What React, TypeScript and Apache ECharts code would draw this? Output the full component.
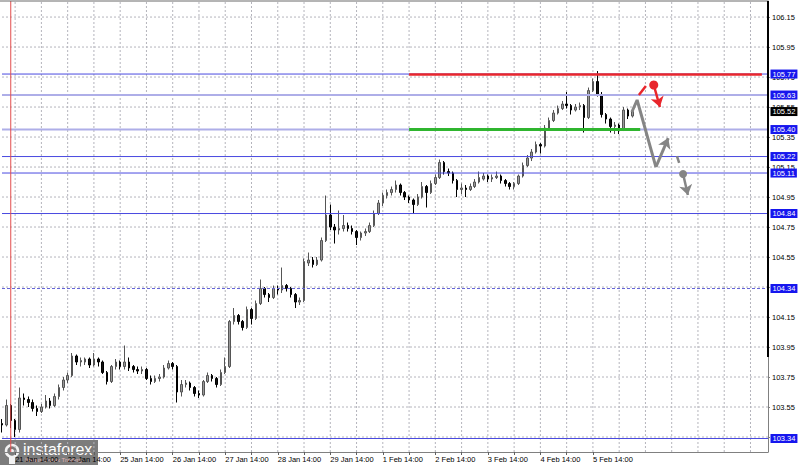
import React, { useEffect, useRef } from "react";
import * as echarts from "echarts";

// ---- time axis: 2-hour slots starting 21 Jan 08:00 (weekends skipped)
const DAYS = ["21 Jan", "22 Jan", "25 Jan", "26 Jan", "27 Jan", "28 Jan", "29 Jan", "1 Feb", "2 Feb", "3 Feb", "4 Feb", "5 Feb", "8 Feb", "9 Feb", "10 Feb"];
const categories: string[] = [];
DAYS.forEach((d, i) => {
  for (let h = 0; h < 24; h += 2) {
    if (i === 0 && h < 8) continue;
    categories.push(`${d} ${String(h).padStart(2, "0")}:00`);
  }
});
const LAST_LABELLED_SLOT = 139; // 5 Feb 22:00, no labels in the future area
const X_LABEL_SLOTS = [3, 15, 27, 39, 51, 63, 75, 87, 99, 111, 123, 135]; // the "14:00" bars
const X_TICK_SLOTS: number[] = [];
for (let i = 3; i <= LAST_LABELLED_SLOT; i += 6) X_TICK_SLOTS.push(i);

// ---- price ticks on the right scale
const Y_TICKS = [103.35, 103.55, 103.75, 103.95, 104.15, 104.35, 104.55, 104.75, 104.95, 105.15, 105.35, 105.55, 105.75, 105.95, 106.15];

// ---- horizontal levels (blue boxes)
const LEVELS = [105.77, 105.63, 105.4, 105.22, 105.11, 104.84, 104.34, 103.34];
const SOFT_LEVELS = [105.63, 105.4];
const DOTTED_LEVELS = [104.34];
const CURRENT_PRICE = 105.52;
const RESISTANCE = 105.77; // red
const SUPPORT = 105.4; // green

// ---- candles: [open, close, low, high]
const OHLC: number[][] = [
  [103.44, 103.43, 103.38, 103.47],
  [103.43, 103.56, 103.42, 103.6],
  [103.56, 103.46, 103.41, 103.57],
  [103.46, 103.4, 103.35, 103.47],
  [103.4, 103.61, 103.38, 103.68],
  [103.61, 103.6, 103.56, 103.64],
  [103.6, 103.58, 103.55, 103.62],
  [103.58, 103.54, 103.52, 103.6],
  [103.54, 103.52, 103.49, 103.56],
  [103.52, 103.55, 103.51, 103.57],
  [103.55, 103.59, 103.54, 103.63],
  [103.59, 103.56, 103.54, 103.61],
  [103.56, 103.62, 103.55, 103.64],
  [103.62, 103.68, 103.6, 103.7],
  [103.68, 103.73, 103.66, 103.75],
  [103.73, 103.76, 103.71, 103.78],
  [103.76, 103.89, 103.75, 103.91],
  [103.89, 103.85, 103.83, 103.9],
  [103.85, 103.86, 103.82, 103.88],
  [103.85, 103.87, 103.83, 103.88],
  [103.87, 103.83, 103.81, 103.88],
  [103.83, 103.87, 103.82, 103.91],
  [103.87, 103.85, 103.82, 103.88],
  [103.85, 103.78, 103.77, 103.86],
  [103.78, 103.72, 103.7, 103.79],
  [103.72, 103.82, 103.71, 103.83],
  [103.82, 103.85, 103.8, 103.87],
  [103.85, 103.82, 103.8, 103.86],
  [103.82, 103.85, 103.8, 103.96],
  [103.85, 103.81, 103.79, 103.88],
  [103.82, 103.8, 103.78, 103.83],
  [103.8, 103.79, 103.77, 103.82],
  [103.79, 103.8, 103.77, 103.82],
  [103.8, 103.74, 103.73, 103.81],
  [103.74, 103.72, 103.7, 103.76],
  [103.72, 103.74, 103.71, 103.76],
  [103.74, 103.75, 103.72, 103.77],
  [103.75, 103.81, 103.74, 103.83],
  [103.81, 103.84, 103.8, 103.86],
  [103.84, 103.82, 103.8, 103.85],
  [103.82, 103.65, 103.58, 103.83],
  [103.65, 103.7, 103.62, 103.73],
  [103.7, 103.71, 103.68, 103.73],
  [103.71, 103.68, 103.66, 103.72],
  [103.68, 103.64, 103.62, 103.69],
  [103.64, 103.63, 103.61, 103.66],
  [103.63, 103.72, 103.62, 103.73],
  [103.72, 103.76, 103.71, 103.78],
  [103.76, 103.74, 103.72, 103.77],
  [103.74, 103.7, 103.68, 103.75],
  [103.7, 103.78, 103.69, 103.8],
  [103.78, 103.82, 103.77, 103.88],
  [103.82, 104.12, 103.81, 104.13],
  [104.12, 104.16, 104.1, 104.21],
  [104.16, 104.12, 104.1, 104.17],
  [104.12, 104.08, 104.06, 104.13],
  [104.08, 104.2, 104.07, 104.22],
  [104.2, 104.14, 104.1, 104.21],
  [104.14, 104.24, 104.13, 104.26],
  [104.24, 104.34, 104.23, 104.4],
  [104.34, 104.3, 104.28, 104.35],
  [104.3, 104.28, 104.25, 104.31],
  [104.28, 104.34, 104.27, 104.36],
  [104.34, 104.33, 104.3, 104.36],
  [104.33, 104.36, 104.31, 104.48],
  [104.36, 104.34, 104.32, 104.37],
  [104.34, 104.3, 104.28, 104.35],
  [104.3, 104.25, 104.21, 104.31],
  [104.25, 104.26, 104.23, 104.28],
  [104.26, 104.52, 104.25, 104.54],
  [104.51, 104.53, 104.49, 104.58],
  [104.53, 104.5, 104.48, 104.55],
  [104.5, 104.53, 104.49, 104.55],
  [104.53, 104.66, 104.52, 104.68],
  [104.66, 104.83, 104.65, 104.96],
  [104.83, 104.75, 104.73, 104.9],
  [104.75, 104.73, 104.64, 104.77],
  [104.73, 104.74, 104.7, 104.86],
  [104.74, 104.76, 104.72, 104.83],
  [104.76, 104.74, 104.72, 104.78],
  [104.74, 104.72, 104.7, 104.76],
  [104.72, 104.68, 104.63, 104.73],
  [104.68, 104.71, 104.66, 104.72],
  [104.71, 104.72, 104.69, 104.74],
  [104.72, 104.76, 104.71, 104.78],
  [104.76, 104.84, 104.75, 104.86],
  [104.84, 104.91, 104.83, 104.93],
  [104.91, 104.96, 104.89, 104.98],
  [104.96, 104.98, 104.94, 105.0],
  [104.98, 105.0, 104.96, 105.02],
  [105.0, 105.03, 104.98, 105.06],
  [105.03, 104.98, 104.96, 105.04],
  [104.98, 104.95, 104.93, 104.99],
  [104.95, 104.93, 104.91, 104.96],
  [104.93, 104.9, 104.84, 104.94],
  [104.9, 104.95, 104.89, 104.97],
  [104.95, 105.02, 104.94, 105.05],
  [105.02, 104.98, 104.88, 105.03],
  [104.98, 105.04, 104.97, 105.06],
  [105.04, 105.08, 105.03, 105.1],
  [105.08, 105.18, 105.07, 105.2],
  [105.18, 105.12, 105.1, 105.19],
  [105.12, 105.11, 105.09, 105.14],
  [105.11, 105.06, 105.04, 105.12],
  [105.06, 105.0, 104.95, 105.07],
  [105.0, 105.01, 104.97, 105.04],
  [105.01, 105.0, 104.95, 105.03],
  [105.0, 105.02, 104.99, 105.04],
  [105.02, 105.05, 105.01, 105.07],
  [105.05, 105.08, 105.04, 105.12],
  [105.07, 105.09, 105.06, 105.11],
  [105.09, 105.07, 105.05, 105.1],
  [105.07, 105.08, 105.05, 105.1],
  [105.08, 105.09, 105.07, 105.12],
  [105.09, 105.06, 105.04, 105.1],
  [105.06, 105.04, 105.02, 105.07],
  [105.04, 105.02, 105.0, 105.05],
  [105.02, 105.04, 105.0, 105.05],
  [105.04, 105.09, 105.03, 105.1],
  [105.09, 105.16, 105.08, 105.18],
  [105.16, 105.21, 105.15, 105.23],
  [105.21, 105.25, 105.19, 105.27],
  [105.25, 105.3, 105.24, 105.32],
  [105.3, 105.29, 105.24, 105.31],
  [105.29, 105.41, 105.28, 105.43],
  [105.41, 105.46, 105.4, 105.48],
  [105.46, 105.51, 105.45, 105.53],
  [105.51, 105.54, 105.5, 105.56],
  [105.54, 105.57, 105.53, 105.59],
  [105.57, 105.56, 105.54, 105.65],
  [105.56, 105.53, 105.5, 105.57],
  [105.53, 105.55, 105.52, 105.57],
  [105.55, 105.56, 105.53, 105.58],
  [105.56, 105.48, 105.38, 105.57],
  [105.48, 105.66, 105.47, 105.68],
  [105.66, 105.72, 105.65, 105.74],
  [105.72, 105.63, 105.62, 105.79],
  [105.63, 105.5, 105.48, 105.65],
  [105.5, 105.47, 105.44, 105.51],
  [105.47, 105.42, 105.38, 105.48],
  [105.42, 105.43, 105.37, 105.45],
  [105.43, 105.4, 105.37, 105.44],
  [105.4, 105.53, 105.39, 105.55],
  [105.53, 105.49, 105.47, 105.54],
  [105.49, 105.52, 105.48, 105.54],
];

// ---- analysis drawings in [slot, price]
const VERTICAL_MARK_SLOT = 2;
const LEVEL_SEG_START = 93;
const RED_SEG_END = 173.6;
const GREEN_SEG_END = 145.8;
const GREY_PATH = [[143.9, 105.517], [145.1, 105.597], [149.4, 105.15]];
const GREY_ARROW = [[149.4, 105.15], [152.2, 105.343]];
const RED_DASH = [[145.5, 105.63], [147.1, 105.69]];
const RED_DOT = [148.9, 105.697];
const RED_ARROW = [[148.9, 105.697], [150.3, 105.55]];
const GREY_DASH = [[154.2, 105.223], [154.7, 105.177]];
const GREY_DOT = [155.6, 105.103];
const GREY_ARROW2 = [[155.6, 105.103], [156.7, 104.963]];

const FONT = "Liberation Sans, Arial, sans-serif";
const BLUE = "#4a4ae0";
const GRID_COLOR = "#b4b4bc";
const SLOT_MAX = categories.length - 1;
const Y_MIN = 103.25;
const Y_MAX = 106.257;

export default function App() {
  const ref = useRef<HTMLDivElement>(null);
  useEffect(() => {
    document.body.style.margin = "0";
    const chart = echarts.init(ref.current!, null, { renderer: "svg" });

    const hLine = (v: number, lineStyle: any, z: number) => ({
      type: "line",
      data: [[0, v], [SLOT_MAX, v]],
      symbol: "none",
      silent: true,
      z,
      lineStyle,
    });

    const levelSeries = LEVELS.map((v) =>
      hLine(
        v,
        SOFT_LEVELS.includes(v)
          ? { color: "#aeaee8", width: 2, type: "solid" }
          : DOTTED_LEVELS.includes(v)
          ? { color: "#6464d8", width: 1, type: [3, 2] }
          : { color: BLUE, width: 1, type: "solid" },
        4
      )
    );
    const gridSeries = Y_TICKS.map((v) => hLine(v, { color: GRID_COLOR, width: 1, type: [2, 2] }, 1));
    const vGrid: any[] = [];
    for (let i = 3; i < categories.length; i += 6) {
      vGrid.push({
        type: "line",
        data: [[i, Y_MIN], [i, Y_MAX]],
        symbol: "none",
        silent: true,
        z: 1,
        lineStyle: { color: GRID_COLOR, width: 1, type: [2, 2] },
      });
    }

    const box = (v: number, bg: string) => ({
      coord: [SLOT_MAX, v],
      value: v,
      symbol: "rect",
      symbolSize: [1, 1],
      itemStyle: { color: "rgba(0,0,0,0)" },
      label: {
        show: true,
        position: "right",
        distance: 2,
        color: "#fff",
        backgroundColor: bg,
        padding: [1, 2, 0, 2],
        fontSize: 7.5,
        fontFamily: FONT,
        formatter: v.toFixed(2),
      },
    });
    const boxes: any[] = LEVELS.map((v) => box(v, "#1616ee"));
    boxes.push(box(CURRENT_PRICE, "#000"));

    const seg = (pts: number[][], color: string, width: number, arrow: boolean) => [
      { coord: pts[0], symbol: "none", lineStyle: { color, width, type: "solid", opacity: 1 } },
      { coord: pts[1], symbol: arrow ? "arrow" : "none", symbolSize: arrow ? 10 : 0 },
    ];

    const option: any = {
      animation: false,
      color: ["#888"],
      grid: { left: 2, right: 32, top: 1, bottom: 13 },
      xAxis: {
        type: "value",
        min: 0,
        max: SLOT_MAX,
        axisLine: { show: true, onZero: false, lineStyle: { color: "#808080" } },
        axisTick: { show: true, length: 3, customValues: X_TICK_SLOTS, lineStyle: { color: "#606060" } },
        axisLabel: {
          customValues: X_LABEL_SLOTS,
          formatter: (v: number) => categories[Math.round(v)] ?? "",
          align: "left",
          margin: 3,
          fontSize: 7.5,
          color: "#000",
          fontFamily: FONT,
          showMinLabel: true,
          showMaxLabel: true,
          hideOverlap: false,
        },
        splitLine: { show: false },
      },
      yAxis: {
        type: "value",
        position: "right",
        min: Y_MIN,
        max: Y_MAX,
        axisLine: { show: true, onZero: false, lineStyle: { color: "#808080" } },
        axisTick: { show: true, length: 2, customValues: Y_TICKS, lineStyle: { color: "#808080" } },
        axisLabel: {
          customValues: Y_TICKS,
          formatter: (v: number) => v.toFixed(2),
          fontSize: 7.5,
          color: "#000",
          margin: 4,
          fontFamily: FONT,
          showMinLabel: true,
          showMaxLabel: true,
        },
        splitLine: { show: false },
      },
      series: [
        ...gridSeries,
        ...vGrid,
        ...levelSeries,
        {
          // vertical marker line
          type: "line",
          data: [[VERTICAL_MARK_SLOT, Y_MIN], [VERTICAL_MARK_SLOT, Y_MAX]],
          symbol: "none",
          silent: true,
          z: 4,
          lineStyle: { color: "#e24c4c", width: 1, type: "solid" },
        },
        {
          type: "candlestick",
          data: OHLC.map((d, i) => [i, d[0], d[1], d[2], d[3]]),
          encode: { x: 0, y: [1, 2, 3, 4] },
          barWidth: 2,
          itemStyle: {
            color: "#999999",
            color0: "#111111",
            borderColor: "#555555",
            borderColor0: "#000000",
            borderWidth: 1,
          },
          z: 3,
        },
        {
          type: "line",
          data: GREY_PATH,
          symbol: "none",
          lineStyle: { color: "#858585", width: 3 },
          z: 5,
          markLine: {
            silent: true,
            animation: false,
            symbol: "none",
            label: { show: false },
            data: [
              seg([[LEVEL_SEG_START, RESISTANCE], [RED_SEG_END, RESISTANCE]], "#e8262c", 2.5, false),
              seg([[LEVEL_SEG_START, SUPPORT], [GREEN_SEG_END, SUPPORT]], "#2fb52f", 3, false),
              seg(GREY_ARROW, "#858585", 3, true),
              seg(RED_DASH, "#e8262c", 2.5, false),
              seg(RED_ARROW, "#e8262c", 2.5, true),
              seg(GREY_DASH, "#858585", 2.5, false),
              seg(GREY_ARROW2, "#858585", 2.5, true),
            ],
          },
          markPoint: {
            silent: true,
            animation: false,
            symbol: "circle",
            label: { show: false },
            data: [
              { coord: RED_DOT, symbolSize: 9, itemStyle: { color: "#e8262c" } },
              { coord: GREY_DOT, symbolSize: 8, itemStyle: { color: "#858585" } },
            ],
          },
        },
        {
          // value boxes on the price scale
          type: "line",
          data: [[SLOT_MAX, CURRENT_PRICE]],
          symbol: "none",
          lineStyle: { width: 0, color: "rgba(0,0,0,0)" },
          silent: true,
          z: 8,
          markPoint: { silent: true, animation: false, data: boxes },
        },
      ],
      graphic: [
        { type: "line", shape: { x1: 0, y1: 1, x2: 768, y2: 1 }, style: { stroke: "#6a6a6a", lineWidth: 1 }, z: 10 },
        { type: "rect", shape: { x: 767, y: 1, width: 2, height: 356 }, style: { fill: "#000" }, z: 10 },
        {
          type: "group",
          left: 0,
          top: 440,
          z: 20,
          children: [
            { type: "rect", shape: { x: 0, y: 0, width: 98, height: 25 }, style: { fill: "rgba(95,95,95,0.82)" } },
            { type: "circle", shape: { cx: 12, cy: 11, r: 6 }, style: { fill: "none", stroke: "#f2f2f2", lineWidth: 2.5 } },
            { type: "circle", shape: { cx: 12, cy: 11, r: 2 }, style: { fill: "#f2f2f2" } },
            { type: "rect", shape: { x: 9, y: 17, width: 6, height: 7 }, style: { fill: "#f2f2f2" } },
            {
              type: "text",
              x: 23,
              y: 1,
              style: { text: "instaforex", fill: "#ffffff", font: `16px ${FONT}` },
            },
            {
              type: "text",
              x: 25,
              y: 17,
              style: { text: "Instant Forex Trading", fill: "#e3b4b4", font: `6px ${FONT}` },
            },
          ],
        },
      ],
    };
    chart.setOption(option);
    return () => chart.dispose();
  }, []);
  return <div ref={ref} style={{ width: 800, height: 465 }} />;
}
